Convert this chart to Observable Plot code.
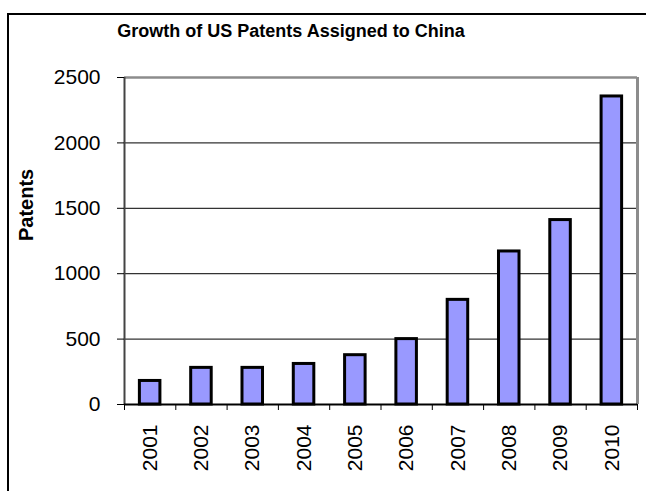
<!DOCTYPE html>
<html>
<head>
<meta charset="utf-8">
<script src="https://cdn.jsdelivr.net/npm/d3@7"></script>
<script src="https://cdn.jsdelivr.net/npm/@observablehq/plot@0.6"></script>
<style>
  html, body { margin: 0; padding: 0; background: white; overflow: hidden; }
  #wrap { position: relative; width: 646px; height: 491px; font-family: "Liberation Sans", Arial, sans-serif; }
  #chart { position: absolute; left: 0; top: 0; }
  #title { position: absolute; left: 0; top: 22px; width: 582px; text-align: center; font-weight: bold; font-size: 18px; line-height: 18px; color: #000; }
  #frame { position: absolute; left: 7px; top: 13px; width: 700px; height: 600px; border: 2px solid #000; pointer-events: none; }
</style>
</head>
<body>
<div id="wrap">
  <div id="chart"></div>
  <div id="title">Growth of US Patents Assigned to China</div>
  <div id="frame"></div>
</div>
<script>
const years = [2001, 2002, 2003, 2004, 2005, 2006, 2007, 2008, 2009, 2010];
const patents = [180, 280, 280, 310, 377, 500, 800, 1170, 1410, 2355];
const yTicks = [0, 500, 1000, 1500, 2000, 2500];
const yLabel = "Patents";

const data = years.map((year, i) => ({year, patents: patents[i]}));
const bounds = [years[0] - 0.5, ...years.map(y => y + 0.5)];

const chart = Plot.plot({
  width: 646,
  height: 491,
  marginLeft: 124,
  marginRight: 9,
  marginTop: 77,
  marginBottom: 87,
  style: {fontFamily: '"Liberation Sans", Arial, sans-serif', fontSize: "21px", color: "black", background: "transparent"},
  x: {type: "linear", domain: [bounds[0], bounds[bounds.length - 1]], axis: null},
  y: {domain: [0, 2500], axis: null},
  marks: [
    Plot.gridY(yTicks.filter(v => v > 0 && v < 2500), {stroke: "#333", strokeOpacity: 1, strokeWidth: 1.3}),
    Plot.ruleY([2500], {stroke: "#8c8c8c", strokeWidth: 2.5}),
    Plot.ruleX([bounds[bounds.length - 1]], {stroke: "#8c8c8c", strokeWidth: 3}),
    Plot.rect(data, {x1: d => d.year - 0.2, x2: d => d.year + 0.2, y1: 0, y2: "patents", fill: "#9999ff", stroke: "black", strokeWidth: 3}),
    Plot.ruleX([bounds[0]], {stroke: "#444", strokeWidth: 2}),
    Plot.ruleY([0], {stroke: "black", strokeWidth: 2}),
    Plot.axisY({ticks: yTicks, tickSize: 7, tickPadding: 17, fontSize: 21, label: null, tickFormat: d => String(d)}),
    Plot.axisX({ticks: bounds, tickSize: 6, tickFormat: () => "", label: null}),
    Plot.axisX({ticks: years, tickSize: 0, tickPadding: 20, tickRotate: -90, fontSize: 21, label: null, tickFormat: d => String(d)}),
    Plot.text([yLabel], {frameAnchor: "left", dx: -98, rotate: -90, fontWeight: "bold", fontSize: 20})
  ]
});
document.getElementById("chart").appendChild(chart);
</script>
</body>
</html>
